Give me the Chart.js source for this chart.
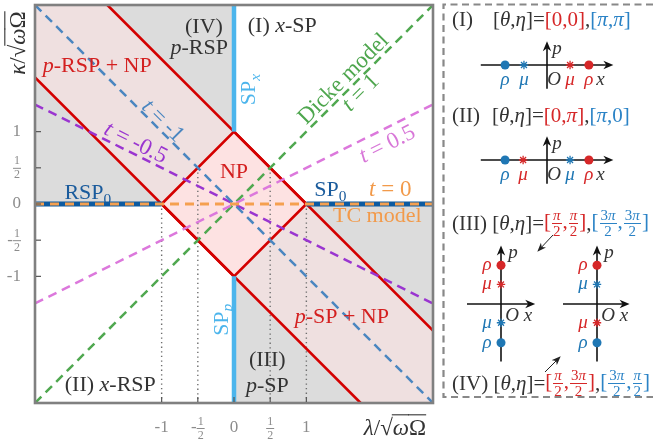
<!DOCTYPE html>
<html lang="en">
<head>
<meta charset="UTF-8">
<title>Phase diagram</title>
<script src="https://cdn.jsdelivr.net/npm/chart.js"></script>
<style>
  body { margin: 0; background: #fff; }
  #wrap { position: relative; width: 653px; height: 447px; overflow: hidden; font-family: 'Liberation Serif', serif; }
  canvas, svg { position: absolute; }
  .hdr { position: absolute; height: 32px; display: flex; align-items: center; font-size: 21px; color: #333; white-space: nowrap; }
  .r { color: #d62728; }
  .b { color: #2b83c6; }
  .fr { display: inline-block; vertical-align: middle; text-align: center; font-size: 15px; line-height: 1.0; margin: 0 1px; }
  .fr span { display: block; padding: 0 1px; }
  .fr span:first-child { border-bottom: 1.4px solid currentColor; }
</style>
</head>
<body>
<div id="wrap">
  <canvas id="main" width="653" height="447" style="left:0;top:0"></canvas>
  <svg width="653" height="447" style="left:0;top:0">
    <defs>
      <marker id="ah" markerWidth="9" markerHeight="8" refX="8" refY="4" orient="auto" markerUnits="userSpaceOnUse">
        <path d="M0,0.5 L9,4 L0,7.5 L2.5,4 z" fill="#222"/>
      </marker>
    </defs>
    <path d="M653,4.5 L443.5,4.5 L443.5,397 L653,397" fill="none" stroke="#888" stroke-width="2.2" stroke-dasharray="7 4.5"/>
    <line x1="553" y1="235" x2="538" y2="251" stroke="#222" stroke-width="1" marker-end="url(#ah)"/>
    <line x1="545" y1="372" x2="560" y2="357" stroke="#222" stroke-width="1" marker-end="url(#ah)"/>
  </svg>
  <canvas id="dI" width="160" height="72" style="left:467px;top:29px"></canvas>
  <canvas id="dII" width="160" height="72" style="left:467px;top:124px"></canvas>
  <canvas id="dIIIa" width="110" height="150" style="left:446px;top:229px"></canvas>
  <canvas id="dIIIb" width="110" height="150" style="left:542px;top:229px"></canvas>

  <div class="hdr" style="left:452px;top:3px">(I)</div>
  <div class="hdr" style="left:493px;top:3px">[<i>θ</i>,<i>η</i>]=<span class="r">[0,0]</span>,<span class="b">[<i>π</i>,<i>π</i>]</span></div>
  <div class="hdr" style="left:452px;top:99px">(II)</div>
  <div class="hdr" style="left:492px;top:99px">[<i>θ</i>,<i>η</i>]=<span class="r">[0,<i>π</i>]</span>,<span class="b">[<i>π</i>,0]</span></div>
  <div class="hdr" style="left:452px;top:207px">(III)&nbsp;[<i>θ</i>,<i>η</i>]=<span class="r">[<span class="fr"><span><i>π</i></span><span>2</span></span>,<span class="fr"><span><i>π</i></span><span>2</span></span>]</span>,<span class="b">[<span class="fr"><span>3<i>π</i></span><span>2</span></span>,<span class="fr"><span>3<i>π</i></span><span>2</span></span>]</span></div>
  <div class="hdr" style="left:452px;top:367px">(IV)&nbsp;[<i>θ</i>,<i>η</i>]=<span class="r">[<span class="fr"><span><i>π</i></span><span>2</span></span>,<span class="fr"><span>3<i>π</i></span><span>2</span></span>]</span>,<span class="b">[<span class="fr"><span>3<i>π</i></span><span>2</span></span>,<span class="fr"><span><i>π</i></span><span>2</span></span>]</span></div>
</div>

<script>
// axis range and ticks
const xMin = -2.75, xMax = 2.75, yMin = -2.75, yMax = 2.75;
const xTicks = [-1, -0.5, 0, 0.5, 1];
const xTickLabels = ['-1', '-1/2', '0', '1/2', '1'];
const yTicks = [-1, -0.5, 0, 0.5, 1];
const yTickLabels = ['-1', '-1/2', '0', '1/2', '1'];

// dashed lines kappa = t * lambda (end points on the frame)
const dickeLine = [[-2.75, -2.75], [2.75, 2.75]];       // t = 1
const halfLine = [[-2.75, -1.375], [2.75, 1.375]];      // t = 0.5
const minusOneLine = [[-2.75, 2.75], [2.75, -2.75]];    // t = -1
const minusHalfLine = [[-2.75, 1.375], [2.75, -1.375]]; // t = -0.5
const tcLine = [[-2.75, 0], [2.75, 0]];                 // t = 0

// phase boundaries
const rsp0Line = [[-2.75, 0], [-1, 0]];
const sp0Line = [[1, 0], [2.75, 0]];
const spxLine = [[0, 1], [0, 2.75]];
const sppLine = [[0, -1], [0, -2.75]];
const redUpper = [[-1.75, 2.75], [2.75, -1.75]];
const redLower = [[-2.75, 1.75], [1.75, -2.75]];
const npDiamond = [[-1, 0], [0, 1], [1, 0], [0, -1], [-1, 0]];
const dottedLines = [
  [[-1, 0], [-1, -2.75]],
  [[-0.5, 0.5], [-0.5, -2.75]],
  [[0.5, 0.5], [0.5, -2.75]],
  [[1, 0], [1, -2.75]]
];

// shaded regions
const grayUpper = [[-2.75, 2.75], [0, 2.75]];
const grayLower = [[0, -2.75], [2.75, -2.75]];
const bandUpperTop = [[-2.75, 2.75], [-1.75, 2.75], [0, 1]];
const bandUpperBottom = [[-2.75, 1.75], [-1, 0], [0, 1]];
const bandLowerTop = [[0, -1], [1, 0], [2.75, -1.75]];
const bandLowerBottom = [[0, -1], [1.75, -2.75], [2.75, -2.75]];
const npTop = [[-1, 0], [0, 1], [1, 0]];
const npBottom = [[-1, 0], [0, -1], [1, 0]];

// inset diagrams: [rho, mu] positions on the axis
const diagIRed = [1, 0.55], diagIBlue = [-1, -0.55];
const diagIIRed = [1, -0.57], diagIIBlue = [-1, 0.55];
const diagIIIRed = [0.93, 0.47], diagIIIBlue = [-0.93, -0.45];
const diagIVRed = [0.93, -0.45], diagIVBlue = [-0.93, 0.47];

const RED = '#d62728', BLUE = '#1f77b4';
const FONT = '"Liberation Serif", serif';

const plotLabels = [
  {x: -0.415, y: 2.47, segs: [['(IV)']], color: '#333'},
  {x: -0.48, y: 2.18, segs: [['p', 'i'], ['-RSP']], color: '#333'},
  {x: 0.19, y: 2.48, segs: [['(I) '], ['x', 'i'], ['-SP']], color: '#333', align: 'left'},
  {x: -1.89, y: 1.92, segs: [['p', 'i'], ['-RSP + NP']], color: '#d42020'},
  {x: 0.19, y: 1.58, segs: [['SP'], ['x', 'is']], color: '#4cb5ec', rot: -90},
  {x: 1.5, y: 1.74, segs: [['Dicke model']], color: '#4ea64e', rot: -45, size: 23},
  {x: 1.74, y: 1.55, segs: [['t', 'i'], [' = 1']], color: '#4ea64e', rot: -45, size: 23},
  {x: 2.11, y: 0.84, segs: [['t', 'i'], [' = 0.5']], color: '#d877d8', rot: -26.6, size: 23},
  {x: 0, y: 0.46, segs: [['NP']], color: '#d42020'},
  {x: -0.97, y: 1.16, segs: [['t', 'i'], [' = -1']], color: '#4a86c0', rot: 45, size: 23},
  {x: -1.35, y: 0.86, segs: [['t', 'i'], [' = -0.5']], color: '#9a35d0', rot: 26.6, size: 23},
  {x: -2.02, y: 0.17, segs: [['RSP'], ['0', 's']], color: '#1a5b9c'},
  {x: 1.33, y: 0.21, segs: [['SP'], ['0', 's']], color: '#1a5b9c'},
  {x: 2.16, y: 0.21, segs: [['t', 'i'], [' = 0']], color: '#f29a4a', size: 23},
  {x: 1.98, y: -0.15, segs: [['TC model']], color: '#f29a4a'},
  {x: -0.19, y: -1.6, segs: [['SP'], ['p', 'is']], color: '#4cb5ec', rot: -90},
  {x: 1.49, y: -1.55, segs: [['p', 'i'], ['-SP + NP']], color: '#d42020'},
  {x: 0.46, y: -2.14, segs: [['(III)']], color: '#333'},
  {x: 0.46, y: -2.5, segs: [['p', 'i'], ['-SP']], color: '#333'},
  {x: -1.71, y: -2.49, segs: [['(II) '], ['x', 'i'], ['-RSP']], color: '#333'}
];

function segFont(st, size) {
  st = st || '';
  const sz = st.includes('s') ? size * 0.7 : size;
  return (st.includes('i') ? 'italic ' : '') + sz + 'px ' + FONT;
}

function drawRich(ctx, segs, x, y, o) {
  const size = o.size || 22;
  ctx.save();
  ctx.translate(x, y);
  ctx.rotate((o.rot || 0) * Math.PI / 180);
  ctx.fillStyle = o.color;
  ctx.strokeStyle = o.color;
  ctx.textAlign = 'left';
  ctx.textBaseline = 'alphabetic';
  let w = 0;
  segs.forEach(([t, st]) => { ctx.font = segFont(st, size); w += ctx.measureText(t).width; });
  let cx = o.align === 'left' ? 0 : -w / 2;
  const base = size * 0.33;
  segs.forEach(([t, st]) => {
    st = st || '';
    ctx.font = segFont(st, size);
    const dy = st.includes('s') ? size * 0.22 : 0;
    ctx.fillText(t, cx, base + dy);
    const tw = ctx.measureText(t).width;
    if (st.includes('o')) {
      ctx.lineWidth = 1.1;
      ctx.beginPath();
      ctx.moveTo(cx - 1, base - size * 0.86);
      ctx.lineTo(cx + tw, base - size * 0.86);
      ctx.stroke();
    }
    cx += tw;
  });
  ctx.restore();
}

function drawTickLabel(ctx, label, px, py, align) {
  ctx.save();
  ctx.fillStyle = '#8c8c8c';
  ctx.strokeStyle = '#8c8c8c';
  ctx.textBaseline = 'middle';
  ctx.textAlign = 'left';
  const m = label.match(/^(-?)(\d+)\/(\d+)$/);
  const big = '17px ' + FONT, small = '12px ' + FONT;
  let sign = '', num = label, den = null;
  if (m) { sign = m[1]; num = m[2]; den = m[3]; }
  ctx.font = big;
  const sw = sign ? ctx.measureText(sign).width : 0;
  let fw;
  if (den) { ctx.font = small; fw = Math.max(ctx.measureText(num).width, ctx.measureText(den).width) + 2; }
  else { fw = ctx.measureText(num).width; }
  const total = sw + fw;
  let x0 = align === 'right' ? px - total : px - total / 2;
  ctx.font = big;
  if (sign) ctx.fillText(sign, x0, py);
  x0 += sw;
  if (den) {
    ctx.font = small;
    ctx.textAlign = 'center';
    ctx.fillText(num, x0 + fw / 2, py - 6.5);
    ctx.fillText(den, x0 + fw / 2, py + 7.5);
    ctx.lineWidth = 1;
    ctx.beginPath();
    ctx.moveTo(x0, py + 0.5);
    ctx.lineTo(x0 + fw, py + 0.5);
    ctx.stroke();
  } else {
    ctx.fillText(num, x0, py);
  }
  ctx.restore();
}

const mainDecor = {
  id: 'mainDecor',
  afterDatasetsDraw(chart) {
    const {ctx, chartArea: a, scales: {x, y}} = chart;
    ctx.save();
    ctx.strokeStyle = '#808080';
    ctx.lineWidth = 2.6;
    ctx.strokeRect(a.left, a.top, a.right - a.left, a.bottom - a.top);
    ctx.strokeStyle = '#555';
    ctx.lineWidth = 1.2;
    xTicks.forEach(v => {
      const px = x.getPixelForValue(v);
      ctx.beginPath(); ctx.moveTo(px, a.bottom - 1); ctx.lineTo(px, a.bottom - 6); ctx.stroke();
    });
    yTicks.forEach(v => {
      const py = y.getPixelForValue(v);
      ctx.beginPath(); ctx.moveTo(a.left + 1, py); ctx.lineTo(a.left + 6, py); ctx.stroke();
    });
    ctx.restore();
    xTicks.forEach((v, i) => drawTickLabel(ctx, xTickLabels[i], x.getPixelForValue(v), 428, 'center'));
    yTicks.forEach((v, i) => drawTickLabel(ctx, yTickLabels[i], 21, y.getPixelForValue(v), 'right'));
    plotLabels.forEach(l => drawRich(ctx, l.segs, x.getPixelForValue(l.x), y.getPixelForValue(l.y), l));
    const title = [['κ', 'i'], ['/'], ['√'], ['ω', 'io'], ['Ω', 'o']];
    drawRich(ctx, title, 17, 43, {color: '#333', rot: -90, size: 23});
    const xtitle = [['λ', 'i'], ['/'], ['√'], ['ω', 'io'], ['Ω', 'o']];
    drawRich(ctx, xtitle, 395, 427, {color: '#333', size: 23});
  }
};

function pts(arr) { return arr.map(([x, y]) => ({x, y})); }
function line(data, color, width, dash, order, extra) {
  return Object.assign({
    data: pts(data), borderColor: color, borderWidth: width, borderDash: dash || [],
    borderCapStyle: 'butt', pointRadius: 0, fill: false, order: order, tension: 0
  }, extra || {});
}
function area(data, color, fill, order) {
  return line(data, 'transparent', 0, [], order, {fill: fill, backgroundColor: color});
}

const GRAY = '#dcdcdc', BAND = '#efe0e0', NPC = '#fde2e2';
const DASH = [9, 6];
const datasets = [
  area(grayUpper, GRAY, 'origin', 40),
  area(grayLower, GRAY, 'origin', 40),
  area(bandUpperTop, BAND, '+1', 39),
  area(bandUpperBottom, 'transparent', false, 39),
  area(bandLowerTop, BAND, '+1', 38),
  area(bandLowerBottom, 'transparent', false, 38),
  area(npTop, NPC, '+1', 37),
  area(npBottom, 'transparent', false, 37),
  ...dottedLines.map(d => line(d, '#6e6e6e', 1.4, [1.3, 3.3], 30)),
  line(redUpper, '#d40000', 2.6, [], 20),
  line(redLower, '#d40000', 2.6, [], 20),
  line(npDiamond, '#d40000', 2.6, [], 20),
  line(spxLine, '#4cb5ec', 4.5, [], 18),
  line(sppLine, '#4cb5ec', 4.5, [], 18),
  line(minusOneLine, '#4a86c0', 2.5, DASH, 15),
  line(minusHalfLine, '#9a35d0', 2.5, DASH, 15),
  line(halfLine, '#dc78dc', 2.5, DASH, 15),
  line(dickeLine, '#50a850', 2.5, DASH, 15),
  line(rsp0Line, '#0d5a9f', 5, [], 12),
  line(sp0Line, '#0d5a9f', 5, [], 12),
  line(tcLine, '#f5a050', 2.8, DASH, 10)
];

new Chart(document.getElementById('main'), {
  type: 'line',
  data: {datasets},
  options: {
    responsive: false,
    animation: false,
    events: [],
    layout: {padding: {left: 35, top: 5, right: 220, bottom: 44}},
    plugins: {legend: {display: false}, tooltip: {enabled: false}},
    scales: {
      x: {type: 'linear', min: xMin, max: xMax, display: false},
      y: {type: 'linear', min: yMin, max: yMax, display: false}
    }
  },
  plugins: [mainDecor]
});

// ---- inset diagrams ----
function arrowHead(ctx, x, y, dir) {
  ctx.save();
  ctx.translate(x, y);
  if (dir === 'up') ctx.rotate(-Math.PI / 2);
  ctx.fillStyle = '#111';
  ctx.beginPath();
  ctx.moveTo(1, 0);
  ctx.lineTo(-9, -4.2);
  ctx.lineTo(-6, 0);
  ctx.lineTo(-9, 4.2);
  ctx.closePath();
  ctx.fill();
  ctx.restore();
}

const diagDecor = {
  id: 'diag',
  afterDatasetsDraw(chart, args, o) {
    const {ctx, scales: {x, y}} = chart;
    const ox = x.getPixelForValue(0), oy = y.getPixelForValue(0);
    const tipX = x.getPixelForValue(o.xAxis[1]), tipY = y.getPixelForValue(o.pAxis[1]);
    arrowHead(ctx, tipX, oy, 'right');
    arrowHead(ctx, ox, tipY, 'up');
    ctx.save();
    ctx.font = 'italic 19px ' + FONT;
    ctx.textAlign = 'center';
    ctx.textBaseline = 'middle';
    const put = (t, px, py, c) => { ctx.fillStyle = c; ctx.fillText(t, px, py); };
    const marks = [['ρ', o.red[0], RED], ['μ', o.red[1], RED], ['ρ', o.blue[0], BLUE], ['μ', o.blue[1], BLUE]];
    if (o.vertical) {
      marks.forEach(([t, v, c]) => put(t, ox - 14, y.getPixelForValue(v), c));
      put('O', ox + 11, oy + 12, '#333');
      put('x', ox + 27, oy + 12, '#333');
      put('p', ox + 12, tipY + 7, '#333');
    } else {
      marks.forEach(([t, v, c]) => put(t, x.getPixelForValue(v), oy + 15, c));
      put('O', ox + 7, oy + 15, '#333');
      put('x', tipX - 12, oy + 15, '#333');
      put('p', ox + 10, tipY + 7, '#333');
    }
    ctx.restore();
  }
};

function makeDiagram(id, vertical, red, blue, xAxis, pAxis, halfX, halfY) {
  const P = v => vertical ? {x: 0, y: v} : {x: v, y: 0};
  const dot = (v, c) => ({data: [P(v)], showLine: false, pointStyle: 'circle', pointRadius: 4.5,
    pointBackgroundColor: c, pointBorderColor: c, pointBorderWidth: 0, order: 1});
  const star = (v, c) => ({data: [P(v)], showLine: false, pointStyle: 'star', pointRadius: 4.2,
    pointBorderColor: c, pointBorderWidth: 1.3, order: 1});
  const ax = d => ({data: d, borderColor: '#111', borderWidth: 1.6, pointRadius: 0, order: 5});
  new Chart(document.getElementById(id), {
    type: 'line',
    data: {datasets: [
      ax([{x: xAxis[0], y: 0}, {x: xAxis[1] - 0.1, y: 0}]),
      ax([{x: 0, y: pAxis[0]}, {x: 0, y: pAxis[1] - 0.1}]),
      dot(red[0], RED), star(red[1], RED),
      dot(blue[0], BLUE), star(blue[1], BLUE)
    ]},
    options: {
      responsive: false,
      animation: false,
      events: [],
      layout: {padding: 0},
      plugins: {legend: {display: false}, tooltip: {enabled: false},
        diag: {vertical, red, blue, xAxis, pAxis}},
      scales: {
        x: {type: 'linear', min: -halfX, max: halfX, display: false},
        y: {type: 'linear', min: -halfY, max: halfY, display: false}
      }
    },
    plugins: [diagDecor]
  });
}

makeDiagram('dI', false, diagIRed, diagIBlue, [-1.58, 1.56], [-0.62, 0.6], 80 / 45, 36 / 45);
makeDiagram('dII', false, diagIIRed, diagIIBlue, [-1.58, 1.56], [-0.62, 0.6], 80 / 45, 36 / 45);
makeDiagram('dIIIa', true, diagIIIRed, diagIIIBlue, [-0.84, 0.82], [-1.38, 1.38], 55 / 45, 75 / 45);
makeDiagram('dIIIb', true, diagIVRed, diagIVBlue, [-0.84, 0.78], [-1.38, 1.38], 55 / 45, 75 / 45);
</script>
</body>
</html>
